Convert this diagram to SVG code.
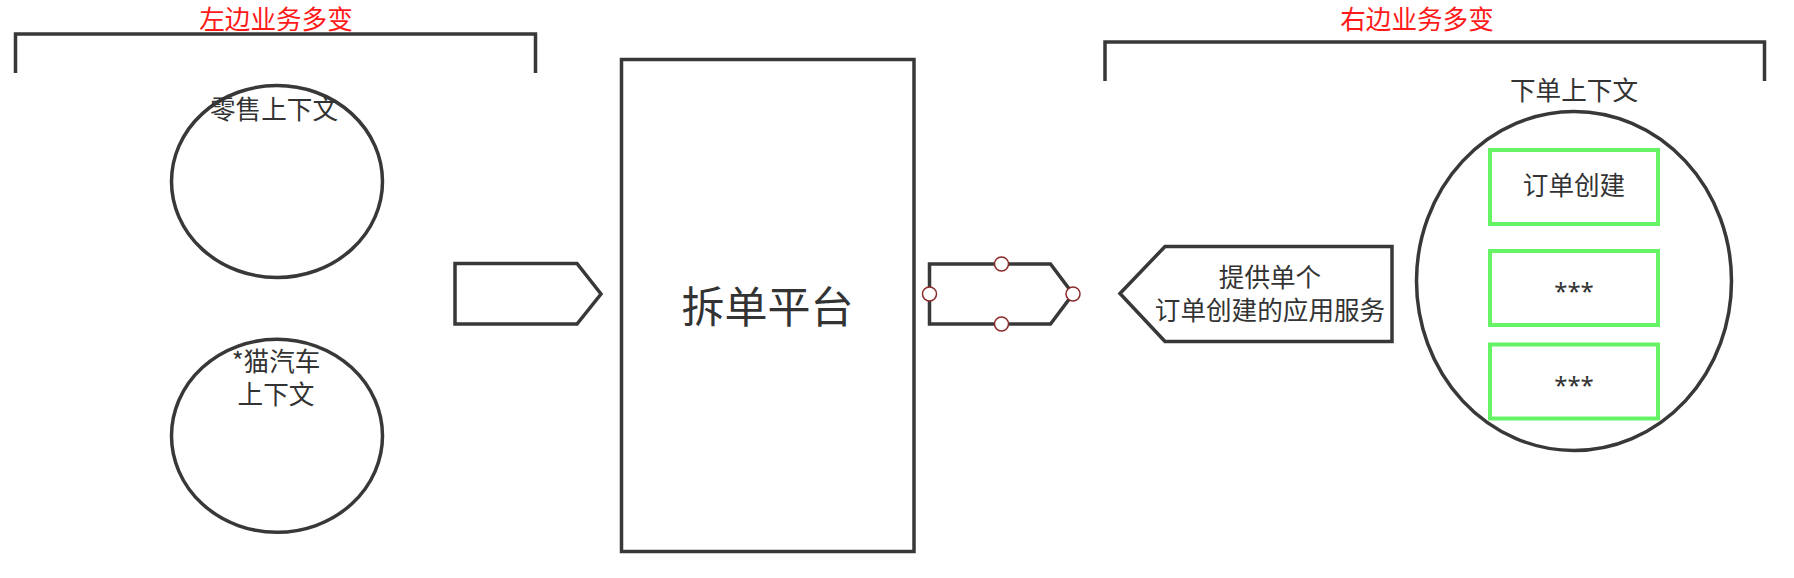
<svg xmlns="http://www.w3.org/2000/svg" width="1794" height="578" viewBox="0 0 1794 578">
  <style>
    .ln { fill: none; stroke: #383838; stroke-width: 3.5; stroke-linejoin: miter; }
    .shape { fill: #ffffff; stroke: #383838; stroke-width: 3.5; }
    .green { fill: #ffffff; stroke: #66f466; stroke-width: 4; }
    .handle { fill: #ffffff; stroke: #8a2a2a; stroke-width: 1.5; }
    .t { font-family: "Noto Sans CJK SC", "Noto Sans", sans-serif; font-size: 25.6px; fill: #333333; text-anchor: middle; }
    .star { font-family: "Noto Sans", "Noto Sans CJK SC", sans-serif; font-size: 24px; fill: #333333; text-anchor: middle; }
    .title { font-family: "Noto Sans CJK SC", "Noto Sans", sans-serif; font-size: 25.6px; fill: #ff1a1a; text-anchor: middle; }
    .big { font-family: "Noto Sans CJK SC", "Noto Sans", sans-serif; font-size: 43px; fill: #333333; text-anchor: middle; }
  </style>
  <rect x="0" y="0" width="1794" height="578" fill="#ffffff"/>

  <g id="left-group">
    <text class="title" x="276" y="29">左边业务多变</text>
    <path class="ln" d="M15.5,73 V34 H535.5 V73"/>
  </g>

  <g id="retail-context">
    <ellipse class="shape" cx="277" cy="181.5" rx="105.5" ry="96"/>
    <text class="t" x="274" y="119">零售上下文</text>
  </g>

  <g id="car-context">
    <ellipse class="shape" cx="277" cy="435.8" rx="105.5" ry="96.5"/>
    <text class="t" y="371"><tspan x="276">*猫汽车</tspan><tspan x="276" dy="33">上下文</tspan></text>
  </g>

  <g id="split-platform">
    <rect class="shape" x="621.5" y="59.5" width="292.5" height="492"/>
    <text class="big" x="767.5" y="323">拆单平台</text>
  </g>

  <g id="right-group">
    <text class="title" x="1417" y="29">右边业务多变</text>
    <path class="ln" d="M1105,81 V42 H1764.5 V81"/>
  </g>

  <g id="order-context">
    <text class="t" x="1574" y="100">下单上下文</text>
    <ellipse class="shape" cx="1574" cy="281" rx="157.5" ry="169.5"/>
    <g id="order-create">
      <rect class="green" x="1490" y="150" width="168" height="74"/>
      <text class="t" x="1574" y="195">订单创建</text>
    </g>
    <g id="order-item-2">
      <rect class="green" x="1490" y="251" width="168" height="74"/>
      <text class="star" x="1574" y="300">***</text>
    </g>
    <g id="order-item-3">
      <rect class="green" x="1490" y="344.5" width="168" height="74"/>
      <text class="star" x="1574" y="394">***</text>
    </g>
  </g>

  <g id="connectors">
    <g id="arrow-in">
      <polygon class="shape" points="455,263.5 577,263.5 601,294 577,324 455,324"/>
    </g>
    <g id="arrow-out">
      <polygon class="shape" points="929.5,264 1050.5,264 1073,294 1050.5,324 929.5,324"/>
      <circle class="handle" cx="929.5" cy="294" r="7"/>
      <circle class="handle" cx="1001.5" cy="264" r="7"/>
      <circle class="handle" cx="1001.5" cy="324" r="7"/>
      <circle class="handle" cx="1073" cy="294" r="7"/>
    </g>
    <g id="service-arrow">
      <polygon class="shape" points="1120,293.5 1165,246.5 1392,246.5 1392,341.5 1165,341.5"/>
      <text class="t" y="287"><tspan x="1270">提供单个</tspan><tspan x="1270" dy="33">订单创建的应用服务</tspan></text>
    </g>
  </g>
</svg>
